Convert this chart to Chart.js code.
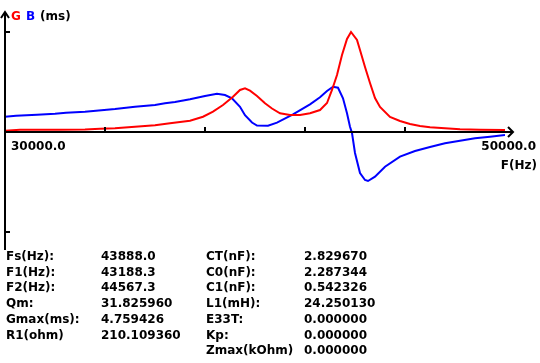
<!DOCTYPE html>
<html>
<head>
<meta charset="utf-8">
<script src="https://cdn.jsdelivr.net/npm/chart.js@4.4.1/dist/chart.umd.min.js"></script>
<style>
  html, body { margin: 0; padding: 0; background: #ffffff; }
  #wrap { width: 540px; height: 363px; }
</style>
</head>
<body>
<div id="wrap"><canvas id="c" width="540" height="363"></canvas></div>
<script>
// conductance G (ms) vs frequency
const gFreq = [30000, 30600, 31400, 32200, 33200, 33800, 34400, 35200, 36000, 36600,
    37000, 37400, 37920, 38320, 38720, 39120, 39400, 39600, 39800, 40080,
    40400, 40680, 41000, 41400, 41800, 42200, 42600, 42880, 43080, 43280,
    43480, 43680, 43840, 44080, 44200, 44400, 44600, 44800, 45000, 45400,
    45800, 46200, 46600, 47000, 47600, 48200, 49000, 50000];
const gValues = [0.062, 0.109, 0.109, 0.109, 0.119, 0.157, 0.181, 0.252, 0.319, 0.414,
    0.476, 0.538, 0.728, 0.966, 1.285, 1.680, 1.999, 2.080, 1.966, 1.713,
    1.366, 1.118, 0.890, 0.809, 0.809, 0.890, 1.047, 1.380, 2.000, 2.713,
    3.664, 4.426, 4.759, 4.378, 3.902, 3.093, 2.332, 1.618, 1.190, 0.714,
    0.523, 0.381, 0.286, 0.224, 0.176, 0.128, 0.109, 0.095];

// susceptance B (ms) vs frequency
const bFreq = [30000, 30440, 31280, 32000, 32440, 33200, 33640, 34400, 35200, 36000,
    36400, 36800, 37400, 38000, 38480, 38800, 39080, 39400, 39600, 39880,
    40080, 40520, 40880, 41520, 42200, 42600, 42880, 43120, 43320, 43520,
    43680, 43800, 43880, 44000, 44200, 44400, 44520, 44800, 45200, 45800,
    46400, 47000, 47600, 48200, 48800, 49400, 50000];
const bValues = [0.728, 0.776, 0.823, 0.871, 0.918, 0.966, 1.014, 1.095, 1.204, 1.285,
    1.366, 1.428, 1.556, 1.713, 1.823, 1.761, 1.604, 1.200, 0.800, 0.450,
    0.309, 0.300, 0.443, 0.842, 1.318, 1.651, 1.951, 2.156, 2.108, 1.604,
    0.890, 0.252, -0.048, -0.999, -1.951, -2.284, -2.332, -2.127, -1.651, -1.175,
    -0.904, -0.714, -0.538, -0.414, -0.300, -0.224, -0.143];

const xTicks = [34000, 38000, 42000, 46000];
const xEndLabels = ["30000.0", "50000.0"];
const gMax = 4.759426;

const leftNames = ["Fs(Hz):", "F1(Hz):", "F2(Hz):", "Qm:", "Gmax(ms):", "R1(ohm)"];
const leftValues = ["43888.0", "43188.3", "44567.3", "31.825960", "4.759426", "210.109360"];
const rightNames = ["CT(nF):", "C0(nF):", "C1(nF):", "L1(mH):", "E33T:", "Kp:", "Zmax(kOhm)"];
const rightValues = ["2.829670", "2.287344", "0.542326", "24.250130", "0.000000", "0.000000", "0.000000"];

const FONT = "bold 12px 'DejaVu Sans'";

const axesAndText = {
    id: "axesAndText",
    afterDraw(chart) {
        const ctx = chart.ctx;
        const xs = chart.scales.x;
        const ys = chart.scales.y;
        const x0 = xs.getPixelForValue(xs.min);
        const y0 = ys.getPixelForValue(0);

        ctx.save();
        ctx.strokeStyle = "#000";
        ctx.fillStyle = "#000";
        ctx.lineWidth = 2;

        // y axis with arrow
        ctx.beginPath();
        ctx.moveTo(x0, 12);
        ctx.lineTo(x0, 250);
        ctx.moveTo(x0 - 4, 18);
        ctx.lineTo(x0, 12);
        ctx.lineTo(x0 + 4, 18);
        // ticks at +/- Gmax
        [gMax, -gMax].forEach(v => {
            const y = ys.getPixelForValue(v);
            ctx.moveTo(x0, y);
            ctx.lineTo(x0 + 5, y);
        });
        // x axis with arrow
        ctx.moveTo(x0, y0);
        ctx.lineTo(513, y0);
        ctx.moveTo(508, y0 - 5);
        ctx.lineTo(513, y0);
        ctx.lineTo(508, y0 + 5);
        xTicks.forEach(f => {
            const x = xs.getPixelForValue(f);
            ctx.moveTo(x, y0);
            ctx.lineTo(x, y0 - 5);
        });
        ctx.stroke();

        ctx.font = FONT;
        ctx.textBaseline = "alphabetic";
        ctx.textAlign = "left";
        ctx.fillText(xEndLabels[0], 11, 150);
        ctx.textAlign = "right";
        ctx.fillText(xEndLabels[1], 536, 150);
        ctx.fillText("F(Hz)", 537, 169);

        ctx.textAlign = "left";
        ctx.fillStyle = "#ff0000";
        ctx.fillText("G", 11, 20);
        ctx.fillStyle = "#0000ff";
        ctx.fillText("B", 26, 20);
        ctx.fillStyle = "#000";
        ctx.fillText("(ms)", 40, 20);

        // parameter table
        const rowY = i => 260 + i * 15.7;
        leftNames.forEach((t, i) => {
            ctx.fillText(t, 6, rowY(i));
            ctx.fillText(leftValues[i], 101, rowY(i));
        });
        rightNames.forEach((t, i) => {
            ctx.fillText(t, 206, rowY(i));
            ctx.fillText(rightValues[i], 304, rowY(i));
        });
        ctx.restore();
    }
};

const yLim = 120 * gMax / 100;

new Chart(document.getElementById("c"), {
    type: "line",
    data: {
        datasets: [
            {
                label: "G",
                data: gFreq.map((f, i) => ({ x: f, y: gValues[i] })),
                borderColor: "#ff0000",
                borderWidth: 2,
                pointRadius: 0,
                tension: 0
            },
            {
                label: "B",
                data: bFreq.map((f, i) => ({ x: f, y: bValues[i] })),
                borderColor: "#0000ff",
                borderWidth: 2,
                pointRadius: 0,
                tension: 0
            }
        ]
    },
    options: {
        responsive: false,
        animation: false,
        layout: { padding: { left: 5, right: 35, top: 12, bottom: 111 } },
        scales: {
            x: { type: "linear", min: 30000, max: 50000, display: false },
            y: { min: -yLim, max: yLim, display: false }
        },
        plugins: {
            legend: { display: false },
            tooltip: { enabled: false }
        }
    },
    plugins: [axesAndText]
});
</script>
</body>
</html>
